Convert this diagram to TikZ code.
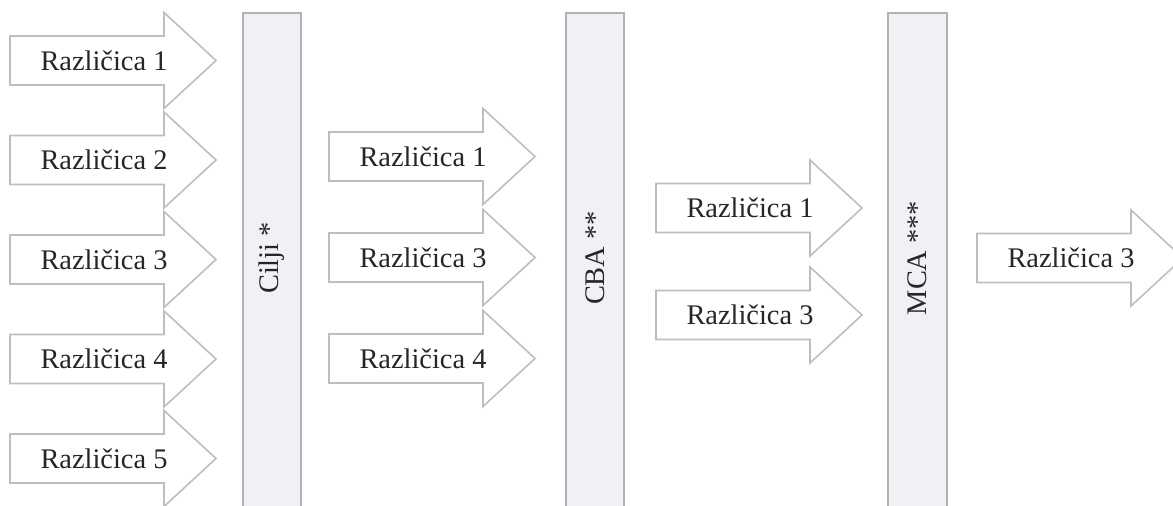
\documentclass[tikz,border=0pt]{standalone}
\usepackage{fontspec}
\setmainfont{Liberation Serif}
\definecolor{arrowline}{RGB}{190,190,190}
\definecolor{barfill}{RGB}{240,241,244}
\definecolor{barline}{RGB}{178,178,180}
\tikzset{
  arrowshape/.style={draw=arrowline, fill=white, line width=0.8pt, line join=miter},
  barshape/.style={draw=barline, fill=barfill, line width=0.9pt},
  lbl/.style={font=\fontsize{14.2pt}{16pt}\selectfont, text=black!85, inner sep=0pt},
  barlbl/.style={font=\fontsize{14.2pt}{16pt}\selectfont, text=black!85, inner sep=0pt, rotate=90}
}
% #1 = left x of body, #2 = centre y, #3 = name, #4 = text
\newcommand\varrow[4]{%
  \draw[arrowshape] (#1,#2-24.5) -- ++(154,0) -- (#1+154,#2-48) -- (#1+206,#2)
     -- (#1+154,#2+48) -- (#1+154,#2+24.5) -- (#1,#2+24.5) -- cycle;
  \node[lbl] (#3) at (#1+94,#2) {#4};
}
\begin{document}
\begin{tikzpicture}[x=0.5pt,y=-0.5pt]
\useasboundingbox (0,0) rectangle (1173,505);
\clip (0,0) rectangle (1173,505);
% column 1
\varrow{10}{60.5}{a1}{Različica 1}
\varrow{10}{160}{a2}{Različica 2}
\varrow{10}{259.5}{a3}{Različica 3}
\varrow{10}{359}{a4}{Različica 4}
\varrow{10}{458.5}{a5}{Različica 5}
% bar 1
\draw[barshape] (243,13) rectangle (301,520);
\node[barlbl] (b1) at (272,258) {Cilji *};
% column 2
\varrow{329}{156.5}{c1}{Različica 1}
\varrow{329}{257.5}{c3}{Različica 3}
\varrow{329}{358.5}{c4}{Različica 4}
% bar 2
\draw[barshape] (566,13) rectangle (624,520);
\node[barlbl] (b2) at (595,258) {CBA **};
% column 3
\varrow{656}{208}{d1}{Različica 1}
\varrow{656}{315}{d3}{Različica 3}
% bar 3
\draw[barshape] (888,13) rectangle (947,520);
\node[barlbl] (b3) at (917.5,258) {MCA ***};
% column 4
\varrow{977}{258}{e3}{Različica 3}
\end{tikzpicture}
\end{document}
